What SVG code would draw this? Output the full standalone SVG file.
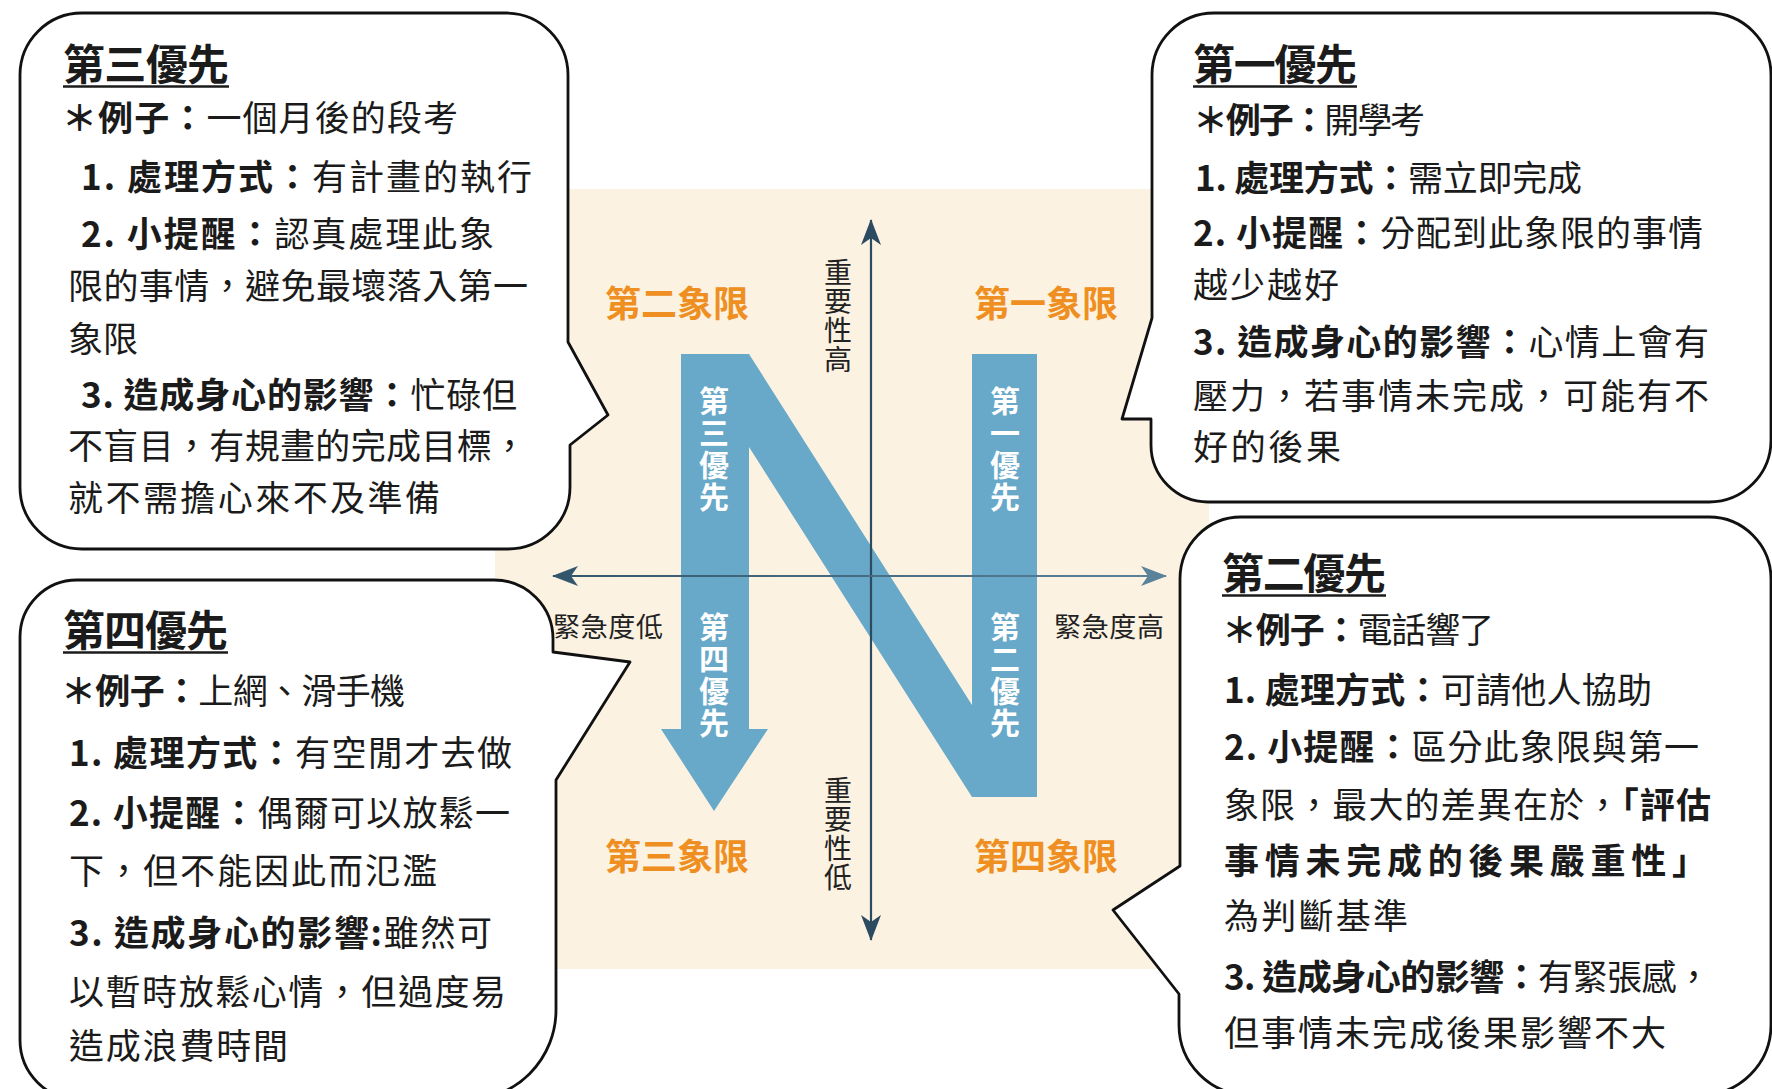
<svg xmlns="http://www.w3.org/2000/svg" width="1772" height="1089" viewBox="0 0 1772 1089">
<style>
text { font-family: 'Noto Sans CJK TC','Noto Sans CJK SC',sans-serif; }
.t { font-size: 35px; fill: #1b1b1b; }
.b { font-weight: 700; }
.title { font-size: 42px; font-weight: 700; fill: #1b1b1b; }
.ul { stroke: #1b1b1b; stroke-width: 2.6; }
.bub { fill: #ffffff; stroke: #111111; stroke-width: 2.8; stroke-linejoin: round; }
.q { font-size: 36px; font-weight: 700; fill: #EF8F22; text-anchor: middle; }
.ax { font-size: 27px; fill: #222222; text-anchor: middle; }
.axv { font-size: 28px; fill: #222222; writing-mode: vertical-rl; letter-spacing: 1px; }
.vt { font-size: 30px; font-weight: 700; fill: #ffffff; writing-mode: vertical-rl; letter-spacing: 2px; }
</style>
<defs>
<marker id="ahV" viewBox="0 0 26 20" refX="25" refY="10" markerWidth="26" markerHeight="20" orient="auto-start-reverse" markerUnits="userSpaceOnUse"><path d="M0,0 L26,10 L0,20 L7,10 Z" fill="#2D4B60"/></marker>
<marker id="ahL" viewBox="0 0 26 20" refX="25" refY="10" markerWidth="26" markerHeight="20" orient="auto-start-reverse" markerUnits="userSpaceOnUse"><path d="M0,0 L26,10 L0,20 L7,10 Z" fill="#34566C"/></marker>
<marker id="ahR" viewBox="0 0 26 20" refX="25" refY="10" markerWidth="26" markerHeight="20" orient="auto" markerUnits="userSpaceOnUse"><path d="M0,0 L26,10 L0,20 L7,10 Z" fill="#5A8299"/></marker>
<linearGradient id="hg" gradientUnits="userSpaceOnUse" x1="553" y1="0" x2="1166" y2="0"><stop offset="0" stop-color="#34566C"/><stop offset="1" stop-color="#5A8299"/></linearGradient>
</defs>
<rect width="1772" height="1089" fill="#ffffff"/>
<g id="matrix">
<rect x="495" y="189" width="714" height="780" fill="#FBF2E2"/>
<path id="n-shape" d="M681,354 L749,354 L972,705 L972,354 L1037,354 L1037,797 L972,797 L749,447 L749,729 L768,729 L714,811 L661,729 L681,729 Z" fill="#68A8C8"/>
<text class="vt" x="714" y="386">第三優先</text>
<text class="vt" x="714" y="612">第四優先</text>
<text class="vt" x="1005" y="386">第一優先</text>
<text class="vt" x="1005" y="612">第二優先</text>
<text class="q" x="677" y="317">第二象限</text>
<text class="q" x="1046" y="317">第一象限</text>
<text class="q" x="677" y="870">第三象限</text>
<text class="q" x="1046" y="870">第四象限</text>
<text class="axv" x="838" y="258">重要性高</text>
<text class="axv" x="838" y="776">重要性低</text>
<text class="ax" x="608" y="637" textLength="110" lengthAdjust="spacing">緊急度低</text>
<text class="ax" x="1109" y="637" textLength="110" lengthAdjust="spacing">緊急度高</text>
</g>
<g id="connectors">
<line x1="871" y1="940" x2="871" y2="220" stroke="#2D4B60" stroke-width="2.2" marker-start="url(#ahV)" marker-end="url(#ahV)"/>
<line x1="553" y1="576" x2="1166" y2="576" stroke="url(#hg)" stroke-width="2.2" marker-start="url(#ahL)" marker-end="url(#ahR)"/>
</g>
<g id="bubble-third">
<path class="bub" d="M82,13 H506 A62,62 0 0 1 568,75 V342 L608,415 L570,445 V487 A62,62 0 0 1 508,549 H82 A62,62 0 0 1 20,487 V75 A62,62 0 0 1 82,13 Z"/>
<text class="title" x="63" y="80" textLength="166" lengthAdjust="spacing">第三優先</text>
<line class="ul" x1="63" y1="86.5" x2="229" y2="86.5"/>
<text class="t" x="62" y="131" textLength="396" lengthAdjust="spacing"><tspan class="b">＊例子：</tspan>一個月後的段考</text>
<text class="t" x="81" y="190" textLength="451" lengthAdjust="spacing"><tspan class="b">1. 處理方式：</tspan>有計畫的執行</text>
<text class="t" x="81" y="247" textLength="413" lengthAdjust="spacing"><tspan class="b">2. 小提醒：</tspan>認真處理此象</text>
<text class="t" x="68" y="299" textLength="460" lengthAdjust="spacing">限的事情，避免最壞落入第一</text>
<text class="t" x="68" y="352">象限</text>
<text class="t" x="81" y="408" textLength="436" lengthAdjust="spacing"><tspan class="b">3. 造成身心的影響：</tspan>忙碌但</text>
<text class="t" x="68" y="459" textLength="459" lengthAdjust="spacing">不盲目，有規畫的完成目標，</text>
<text class="t" x="68" y="511" textLength="372" lengthAdjust="spacing">就不需擔心來不及準備</text>
</g>
<g id="bubble-first">
<path class="bub" d="M1214,13 H1709 A62,62 0 0 1 1771,75 V440 A62,62 0 0 1 1709,502 H1208 A57,57 0 0 1 1151,445 V419 L1122,419 L1152,318 V75 A62,62 0 0 1 1214,13 Z"/>
<text class="title" x="1193" y="80" textLength="164" lengthAdjust="spacing">第一優先</text>
<line class="ul" x1="1193" y1="86.5" x2="1357" y2="86.5"/>
<text class="t" x="1193" y="133" textLength="232" lengthAdjust="spacing"><tspan class="b">＊例子：</tspan>開學考</text>
<text class="t" x="1195" y="191" textLength="387" lengthAdjust="spacing"><tspan class="b">1. 處理方式：</tspan>需立即完成</text>
<text class="t" x="1193" y="246" textLength="510" lengthAdjust="spacing"><tspan class="b">2. 小提醒：</tspan>分配到此象限的事情</text>
<text class="t" x="1193" y="298" textLength="146" lengthAdjust="spacing">越少越好</text>
<text class="t" x="1193" y="355" textLength="516" lengthAdjust="spacing"><tspan class="b">3. 造成身心的影響：</tspan>心情上會有</text>
<text class="t" x="1193" y="409" textLength="516" lengthAdjust="spacing">壓力，若事情未完成，可能有不</text>
<text class="t" x="1193" y="460" textLength="148" lengthAdjust="spacing">好的後果</text>
</g>
<g id="bubble-fourth">
<path class="bub" d="M77,580 H494 A59,59 0 0 1 553,639 V652 L630,662 L556,780 V1010 A90,90 0 0 1 466,1100 H80 A60,60 0 0 1 20,1040 V637 A57,57 0 0 1 77,580 Z"/>
<text class="title" x="63" y="646" textLength="165" lengthAdjust="spacing">第四優先</text>
<line class="ul" x1="63" y1="652.5" x2="228" y2="652.5"/>
<text class="t" x="61" y="704" textLength="344" lengthAdjust="spacing"><tspan class="b">＊例子：</tspan>上網、滑手機</text>
<text class="t" x="69" y="766" textLength="443" lengthAdjust="spacing"><tspan class="b">1. 處理方式：</tspan>有空閒才去做</text>
<text class="t" x="69" y="826" textLength="441" lengthAdjust="spacing"><tspan class="b">2. 小提醒：</tspan>偶爾可以放鬆一</text>
<text class="t" x="69" y="884" textLength="368" lengthAdjust="spacing">下，但不能因此而氾濫</text>
<text class="t" x="69" y="946" textLength="423" lengthAdjust="spacing"><tspan class="b">3. 造成身心的影響:</tspan>雖然可</text>
<text class="t" x="69" y="1005" textLength="437" lengthAdjust="spacing">以暫時放鬆心情，但過度易</text>
<text class="t" x="69" y="1059" textLength="219" lengthAdjust="spacing">造成浪費時間</text>
</g>
<g id="bubble-second">
<path class="bub" d="M1241,517 H1709 A62,62 0 0 1 1771,579 V1025 A70,70 0 0 1 1701,1095 H1249 A70,70 0 0 1 1179,1025 V994 L1113,910 L1180,866 V579 A61,62 0 0 1 1241,517 Z"/>
<text class="title" x="1222" y="589" textLength="164" lengthAdjust="spacing">第二優先</text>
<line class="ul" x1="1222" y1="595.5" x2="1386" y2="595.5"/>
<text class="t" x="1222" y="643" textLength="272" lengthAdjust="spacing"><tspan class="b">＊例子：</tspan>電話響了</text>
<text class="t" x="1224" y="703" textLength="428" lengthAdjust="spacing"><tspan class="b">1. 處理方式：</tspan>可請他人協助</text>
<text class="t" x="1224" y="760" textLength="475" lengthAdjust="spacing"><tspan class="b">2. 小提醒：</tspan>區分此象限與第一</text>
<text class="t" x="1224" y="818" textLength="487" lengthAdjust="spacing">象限，最大的差異在於，<tspan class="b">「評估</tspan></text>
<text class="t b" x="1224" y="874" textLength="483" lengthAdjust="spacing">事情未完成的後果嚴重性」</text>
<text class="t" x="1224" y="929" textLength="184" lengthAdjust="spacing">為判斷基準</text>
<text class="t" x="1224" y="990" textLength="487" lengthAdjust="spacing"><tspan class="b">3. 造成身心的影響：</tspan>有緊張感，</text>
<text class="t" x="1224" y="1046" textLength="442" lengthAdjust="spacing">但事情未完成後果影響不大</text>
</g>
</svg>
